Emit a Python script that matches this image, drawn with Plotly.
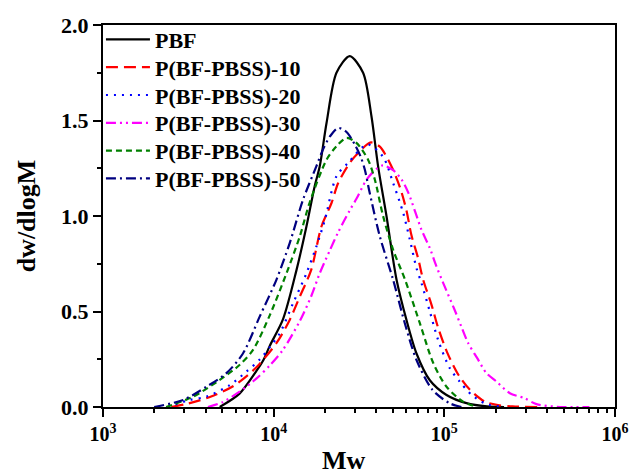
import numpy as np
import plotly.graph_objects as go

# ---- data (log10 Mw, dw/dlogM) ----
pbf_lg = [3.684, 3.80, 3.90, 3.94, 3.977, 4.055, 4.134, 4.192, 4.24, 4.27, 4.31, 4.368,
          4.446, 4.524, 4.573, 4.612, 4.661, 4.72, 4.778, 4.837, 4.915, 5.013, 5.13, 5.25, 5.35]
pbf_y = [0.0, 0.07, 0.19, 0.246, 0.32, 0.46, 0.718, 0.945, 1.155, 1.26, 1.488, 1.75,
         1.837, 1.75, 1.522, 1.26, 1.0, 0.666, 0.456, 0.28, 0.14, 0.063, 0.02, 0.003, 0.0]

s10_lg = [3.40, 3.50, 3.63, 3.765, 3.89, 4.016, 4.094, 4.153, 4.22, 4.28, 4.339, 4.378,
          4.446, 4.495, 4.57, 4.622, 4.685, 4.74, 4.778, 4.807, 4.846, 4.876, 4.925,
          4.964, 5.017, 5.085, 5.15, 5.237, 5.315, 5.40, 5.55]
s10_y = [0.0, 0.018, 0.054, 0.11, 0.20, 0.334, 0.456, 0.578, 0.718, 0.945, 1.068, 1.173,
         1.278, 1.33, 1.385, 1.363, 1.27, 1.15, 1.03, 0.90, 0.78, 0.666, 0.535,
         0.414, 0.285, 0.165, 0.09, 0.028, 0.01, 0.003, 0.0]

s20_lg = [3.38, 3.508, 3.606, 3.743, 3.84, 3.92, 3.98, 4.036, 4.114, 4.192, 4.25, 4.30,
          4.368, 4.436, 4.55, 4.641, 4.70, 4.759, 4.798, 4.837, 4.866, 4.915, 4.964,
          5.032, 5.09, 5.16, 5.247, 5.35]
s20_y = [0.0, 0.037, 0.054, 0.115, 0.185, 0.25, 0.316, 0.386, 0.544, 0.70, 0.84, 0.98,
         1.208, 1.278, 1.375, 1.31, 1.173, 1.016, 0.876, 0.727, 0.649, 0.5, 0.35,
         0.203, 0.133, 0.063, 0.015, 0.0]

s30_lg = [3.615, 3.70, 3.80, 3.90, 3.98, 4.055, 4.153, 4.22, 4.27, 4.329, 4.378, 4.446,
          4.485, 4.544, 4.60, 4.64, 4.70, 4.75, 4.79, 4.83, 4.866, 4.915, 4.95, 4.993,
          5.06, 5.10, 5.14, 5.19, 5.247, 5.306, 5.384, 5.47, 5.54, 5.68, 5.85]
s30_y = [0.0, 0.025, 0.08, 0.15, 0.22, 0.30, 0.45, 0.58, 0.70, 0.82, 0.915, 1.03,
         1.09, 1.19, 1.245, 1.265, 1.24, 1.19, 1.12, 1.02, 0.928, 0.832, 0.745, 0.65,
         0.509, 0.42, 0.334, 0.26, 0.177, 0.133, 0.072, 0.046, 0.015, 0.0, 0.0]

s40_lg = [3.37, 3.528, 3.684, 3.80, 3.88, 3.977, 4.075, 4.153, 4.21, 4.31, 4.368, 4.427,
          4.485, 4.553, 4.593, 4.641, 4.70, 4.77, 4.856, 4.935, 5.013, 5.11, 5.19]
s40_y = [0.0, 0.054, 0.142, 0.22, 0.30, 0.48, 0.70, 0.893, 1.068, 1.295, 1.365, 1.409,
         1.383, 1.295, 1.19, 1.0, 0.823, 0.666, 0.44, 0.23, 0.106, 0.028, 0.0]

s50_lg = [3.30, 3.47, 3.606, 3.723, 3.82, 3.918, 4.016, 4.094, 4.172, 4.25, 4.29, 4.33,
          4.378, 4.427, 4.475, 4.51, 4.534, 4.563, 4.622, 4.70, 4.768, 4.837, 4.93, 5.03, 5.10]
s50_y = [0.0, 0.037, 0.106, 0.177, 0.28, 0.473, 0.666, 0.858, 1.085, 1.26, 1.35, 1.417,
         1.461, 1.44, 1.375, 1.31, 1.243, 1.12, 0.893, 0.666, 0.44, 0.246, 0.09, 0.02, 0.0]

names = ["PBF", "P(BF-PBSS)-10", "P(BF-PBSS)-20", "P(BF-PBSS)-30",
         "P(BF-PBSS)-40", "P(BF-PBSS)-50"]
series_lg = [pbf_lg, s10_lg, s20_lg, s30_lg, s40_lg, s50_lg]
series_y = [pbf_y, s10_y, s20_y, s30_y, s40_y, s50_y]
colors = ["#000000", "#FF0000", "#0000FF", "#FF00FF", "#008000", "#000080"]
dashes = ["solid", "12px,6px", "2px,6px", "10px,4px,2px,4px,2px,4px",
          "6px,4px", "10px,4px,2px,4px"]

x_ticks = [1e3, 1e4, 1e5, 1e6]
x_ticktext = ["10<sup>3</sup>", "10<sup>4</sup>", "10<sup>5</sup>", "10<sup>6</sup>"]
minor_mult = [2, 3, 4, 5, 6, 7, 8, 9]
y_ticks = [0, 0.5, 1.0, 1.5, 2.0]
y_ticktext = ["0.0", "0.5", "1.0", "1.5", "2.0"]

FONT = "Liberation Serif, Times New Roman, serif"
LEG_FONT = dict(family=FONT, size=22, color="black", weight="bold")

# legend row centres (pixels from top of figure) and plot-area geometry
PLOT_TOP, PLOT_BOTTOM = 25, 407
legend_rows_px = [39.5, 67.3, 95.2, 123.0, 150.8, 178.6]

fig = go.Figure()
legend_ids = ["legend", "legend2", "legend3", "legend4", "legend5", "legend6"]
for nm, lg, yv, c, d, lid in zip(names, series_lg, series_y, colors, dashes, legend_ids):
    fig.add_trace(go.Scatter(
        x=10 ** np.array(lg), y=yv, name=nm, mode="lines", legend=lid,
        line=dict(color=c, width=2.2, dash=d, shape="spline", smoothing=0.8),
    ))

legend_layout = {}
for lid, rp in zip(legend_ids, legend_rows_px):
    legend_layout[lid] = dict(
        x=-0.004, y=(PLOT_BOTTOM - rp) / (PLOT_BOTTOM - PLOT_TOP),
        xanchor="left", yanchor="middle",
        bgcolor="rgba(0,0,0,0)", borderwidth=0, itemwidth=44,
        font=LEG_FONT,
    )

x_minor = [m * d for d in x_ticks[:-1] for m in minor_mult]

fig.update_layout(
    width=632, height=475,
    margin=dict(l=103, r=17, t=25, b=68, autoexpand=False),
    paper_bgcolor="white", plot_bgcolor="white",
    font=dict(family=FONT, size=22, color="black", weight="bold"),
    showlegend=True,
    xaxis=dict(
        type="log", range=[3, 6],
        tickvals=x_ticks, ticktext=x_ticktext,
        ticks="outside", ticklen=8, tickwidth=2, tickcolor="black",
        minor=dict(tickvals=x_minor, ticks="outside", ticklen=4, tickwidth=2,
                   tickcolor="black", showgrid=False),
        showline=True, linewidth=2, linecolor="black", mirror=True,
        showgrid=False, zeroline=False, ticklabelstandoff=0,
        tickfont=dict(family=FONT, size=20, color="black", weight="bold"),
    ),
    yaxis=dict(
        range=[0, 2.0], tickvals=y_ticks, ticktext=y_ticktext,
        ticks="outside", ticklen=8, tickwidth=2, tickcolor="black",
        minor=dict(dtick=0.25, ticks="outside", ticklen=4, tickwidth=2,
                   tickcolor="black", showgrid=False),
        showline=True, linewidth=2, linecolor="black", mirror=True,
        showgrid=False, zeroline=False, ticklabelstandoff=0,
        tickfont=dict(family=FONT, size=22, color="black", weight="bold"),
        title=dict(text="dw/dlogM", standoff=18,
                   font=dict(family=FONT, size=26, color="black", weight="bold")),
    ),
    annotations=[dict(
        text="Mw", xref="paper", yref="paper", x=0.471, y=-0.139,
        xanchor="center", yanchor="middle", showarrow=False,
        font=dict(family=FONT, size=26, color="black", weight="bold"),
    )],
    **legend_layout,
)

fig.write_html("out.html", config={"displayModeBar": False},
               post_script="document.body.style.margin='0';")
